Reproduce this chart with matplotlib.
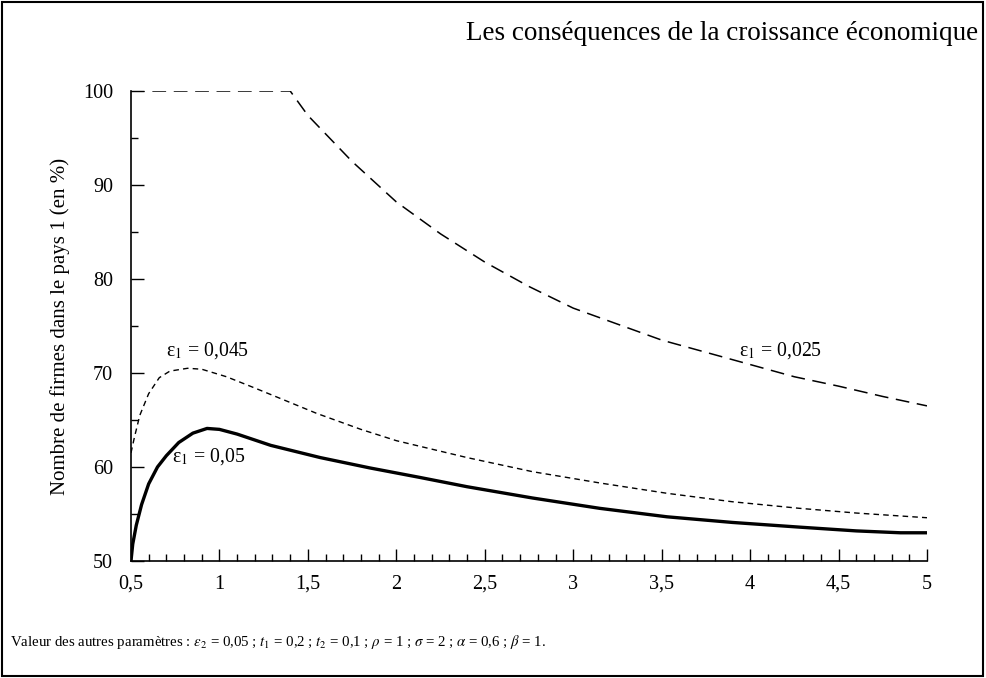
import matplotlib.pyplot as plt
from matplotlib.ticker import MultipleLocator, FuncFormatter
from matplotlib.patches import Rectangle

plt.rcParams['font.family'] = ['Liberation Serif', 'DejaVu Serif']
plt.rcParams['mathtext.fontset'] = 'stix'

# courbe eps1 = 0,025 (tirets longs)
x_025 = [0.5, 1.4, 1.5, 1.75, 2.0, 2.25, 2.5, 2.75, 3.0, 3.25, 3.5, 3.75, 4.0, 4.25, 4.5, 4.75, 5.0]
y_025 = [100, 100, 97.4, 92.5, 88.2, 84.8, 81.8, 79.2, 76.9, 75.2, 73.5, 72.2, 70.9, 69.6, 68.6, 67.5, 66.5]

# courbe eps1 = 0,045 (tirets courts)
x_045 = [0.5, 0.52, 0.55, 0.6, 0.66, 0.72, 0.82, 0.9, 1.04, 1.2, 1.33, 1.55, 1.8, 2.0,
         2.4, 2.77, 3.15, 3.53, 3.9, 4.28, 4.6, 5.0]
y_045 = [61.5, 63.2, 65.5, 67.8, 69.5, 70.2, 70.5, 70.4, 69.6, 68.4, 67.4, 65.7, 64.0, 62.8,
         61.0, 59.5, 58.3, 57.2, 56.3, 55.6, 55.1, 54.6]

# courbe eps1 = 0,05 (trait plein)
x_05 = [0.5, 0.51, 0.53, 0.56, 0.6, 0.65, 0.7, 0.77, 0.85, 0.93, 1.0, 1.1, 1.29, 1.57, 1.85,
        2.13, 2.4, 2.77, 3.15, 3.53, 3.9, 4.28, 4.6, 4.85, 5.0]
y_05 = [50, 51.8, 53.8, 56.0, 58.2, 60.0, 61.2, 62.6, 63.6, 64.1, 64.0, 63.5, 62.3, 61.0, 59.9,
        58.9, 57.9, 56.7, 55.6, 54.7, 54.1, 53.6, 53.2, 53.0, 53.0]

fig = plt.figure(figsize=(9.87, 6.78), dpi=100)
ax = fig.add_axes([0.1327, 0.1726, 0.8065, 0.6932])

ax.plot(x_025, y_025, color='black', lw=1.1, dashes=(9, 5))
ax.plot(x_045, y_045, color='black', lw=1.0, dashes=(4, 3))
ax.plot(x_05, y_05, color='black', lw=2.4, solid_capstyle='butt')

ax.set_xlim(0.5, 5)
ax.set_ylim(50, 100)
ax.spines['top'].set_visible(False)
ax.spines['right'].set_visible(False)
ax.spines['left'].set_linewidth(1.2)
ax.spines['bottom'].set_linewidth(1.2)

ax.xaxis.set_major_locator(MultipleLocator(0.5))
ax.xaxis.set_minor_locator(MultipleLocator(0.1))
ax.yaxis.set_major_locator(MultipleLocator(10))
ax.yaxis.set_minor_locator(MultipleLocator(5))
ax.xaxis.set_major_formatter(FuncFormatter(lambda v, p: ('%g' % v).replace('.', ',')))
ax.tick_params(which='major', direction='in', length=9, width=1.0, labelsize=14.5, pad=10)
ax.tick_params(which='minor', direction='in', length=5, width=1.0)
ax.tick_params(axis='y', pad=13)

ax.set_ylabel('Nombre de firmes dans le pays 1 (en %)', fontsize=15)
ax.yaxis.set_label_coords(-0.077, 0.5)

ax.text(0.70, 72.4, 'ε$_1$ = 0,045', fontsize=14.2, va='center')
ax.text(0.73, 61.1, 'ε$_1$ = 0,05', fontsize=14.2, va='center')
ax.text(3.94, 72.4, 'ε$_1$ = 0,025', fontsize=14.2, va='center')

fig.text(0.991, 0.95, 'Les conséquences de la croissance économique', fontsize=19.5,
         ha='right', va='center')
fig.text(0.01, 0.053, r'Valeur des autres paramètres : $\varepsilon_2$ = 0,05 ; $t_1$ = 0,2 ; '
         r'$t_2$ = 0,1 ; $\rho$ = 1 ; $\sigma$ = 2 ; $\alpha$ = 0,6 ; $\beta$ = 1.',
         fontsize=10.7, ha='left', va='center')

fig.patches.append(Rectangle((0.002, 0.003), 0.994, 0.994, transform=fig.transFigure,
                             fill=False, edgecolor='black', lw=1.5))

plt.savefig('out.png', dpi=100)
